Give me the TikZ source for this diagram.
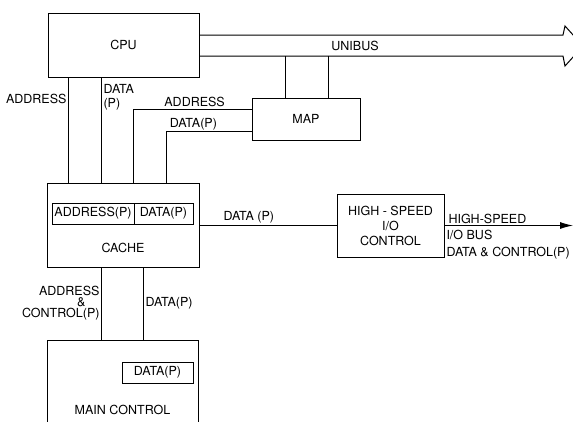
\documentclass[tikz,border=0pt]{standalone}
\usepackage{fontspec}
\setmainfont{TeX Gyre Heros}
\usetikzlibrary{arrows.meta}

\tikzset{
  box/.style={draw, inner sep=0pt},
  lbl/.style={inner sep=1.5pt},
}

\begin{document}
\begin{tikzpicture}[x=1pt, y=-1pt, line width=1pt,
    every node/.append style={font=\fontsize{12.5}{14}\selectfont}]
  \useasboundingbox (0,0) rectangle (573,421);

  % boxes
  \node[box, minimum width=151pt, minimum height=64pt] (cpu) at (123.5,45) {CPU};
  \node[box, minimum width=108pt, minimum height=42pt] (map) at (306,119) {MAP};
  \node[box, minimum width=152pt, minimum height=84pt] (cache) at (123,225) {};
  \node[box, minimum width=82pt, minimum height=21pt] (cacheadr) at (93,213.5) {ADDRESS(P)};
  \node[box, minimum width=59pt, minimum height=21pt] (cachedat) at (163.5,213.5) {DATA(P)};
  \node (cachename) at (123,248) {CACHE};
  \node[box, align=center, minimum width=107pt, minimum height=63pt,
        font=\fontsize{12.5}{15}\selectfont] (hsio) at (390.5,225.5)
        {HIGH - SPEED\\I/O\\CONTROL};
  \node[box, minimum width=151pt, minimum height=140pt] (main) at (122.5,410) {};
  \node[box, minimum width=71pt, minimum height=21pt] (maindat) at (157.5,372.5) {DATA(P)};
  \node (mainname) at (122.5,410) {MAIN CONTROL};

  % unibus
  \coordinate (bustop) at (563,35);
  \coordinate (busbot) at (563,56);
  \draw (cpu.east |- bustop) -- (bustop) -- (565,26) -- (583,46)
        -- (565,66) -- (busbot) -- (cpu.east |- busbot);
  \node (unibus) at (355,46) {UNIBUS};

  % map on the unibus
  \coordinate (tapa) at (285,56);
  \coordinate (tapb) at (328,56);
  \draw (tapa) -- (tapa |- map.north);
  \draw (tapb) -- (tapb |- map.north);

  % cache to map
  \coordinate (adrup) at (133,109);
  \coordinate (datup) at (166,131);
  \draw (adrup |- cache.north) -- (adrup) -- (adrup -| map.west)
        node[lbl, pos=0.52, above] {ADDRESS};
  \draw (datup |- cache.north) -- (datup) -- (datup -| map.west)
        node[lbl, pos=0.32, above, inner sep=0.5pt] {DATA(P)};

  % cpu to cache
  \draw ([xshift=21pt]cpu.south west) coordinate (cpua)
        -- (cpua |- cache.north) node[lbl, pos=0.2, left] {ADDRESS};
  \draw ([xshift=54pt]cpu.south west) coordinate (cpud)
        -- (cpud |- cache.north)
        node[lbl, pos=0.19, right, align=left, font=\fontsize{12.5}{14}\selectfont] {DATA\\(P)};

  % cache to main control
  \draw ([xshift=55pt]cache.south west) coordinate (mema)
        -- (mema |- main.north)
        node[lbl, midway, left, align=right, font=\fontsize{12.5}{11}\selectfont]
        {ADDRESS\\\&\rule{14pt}{0pt}\\CONTROL(P)};
  \draw ([xshift=97pt]cache.south west) coordinate (memd)
        -- (memd |- main.north) node[lbl, midway, right] {DATA(P)};

  % cache to high-speed i/o
  \draw (cache.east) -- (cache.east -| hsio.west)
        node[lbl, pos=0.36, above] {DATA (P)};

  % high-speed i/o bus
  \coordinate (iobus) at (573,225.5);
  \draw[-{Latex[length=13pt, width=7pt]}] (hsio.east) -- (iobus)
        node[lbl, pos=0, above right, xshift=2pt] {HIGH-SPEED}
        node[lbl, pos=0, below right, yshift=-3pt, align=left,
             font=\fontsize{12.5}{17}\selectfont]
        {I/O BUS\\DATA \& CONTROL(P)};
\end{tikzpicture}
\end{document}
